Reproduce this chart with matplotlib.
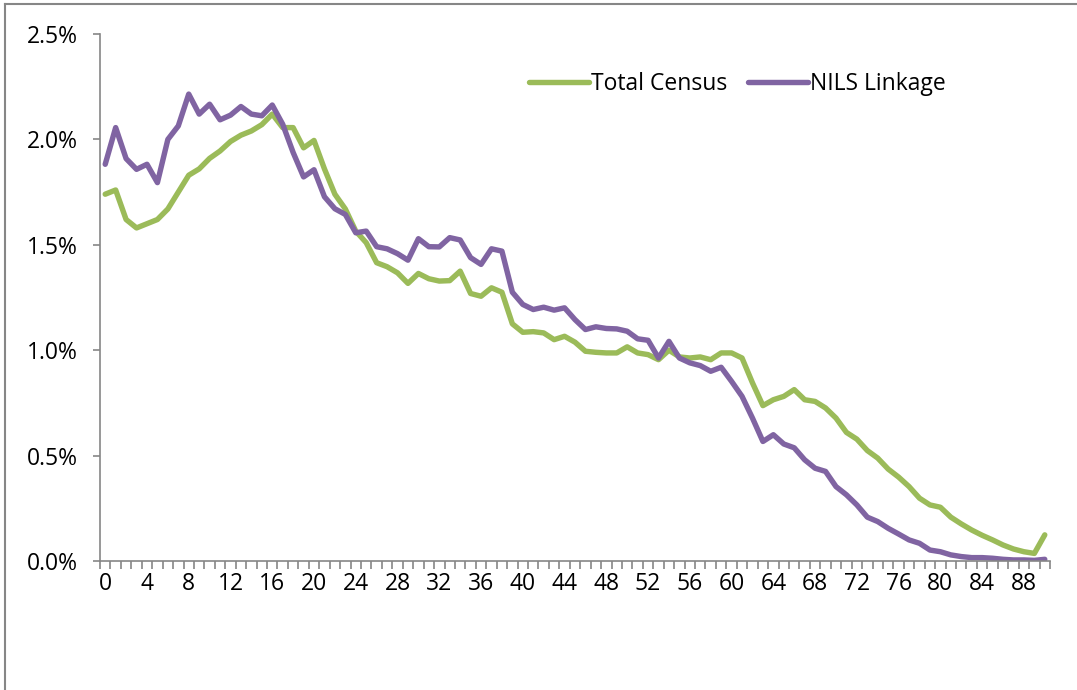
import numpy as np
import matplotlib
matplotlib.use("Agg")
import matplotlib.pyplot as plt
from matplotlib.ticker import FuncFormatter, FixedLocator

# ==========================================
# Data (share of population by single year of age, %)
# ==========================================

ages = list(range(0, 91))

total_census = [
    1.74, 1.76, 1.62, 1.58, 1.60, 1.62, 1.67, 1.75, 1.83, 1.86,
    1.91, 1.945, 1.99, 2.02, 2.04, 2.07, 2.12, 2.056, 2.056, 1.96,
    1.995, 1.86, 1.74, 1.67, 1.565, 1.51, 1.415, 1.396, 1.367, 1.317,
    1.364, 1.339, 1.328, 1.33, 1.375, 1.269, 1.256, 1.296, 1.275, 1.125,
    1.085, 1.088, 1.082, 1.05, 1.066, 1.038, 0.995, 0.99, 0.987, 0.987,
    1.016, 0.987, 0.979, 0.955, 1.0, 0.968, 0.963, 0.968, 0.955, 0.987,
    0.987, 0.963, 0.845, 0.737, 0.765, 0.781, 0.813, 0.765, 0.757, 0.726,
    0.678, 0.61, 0.578, 0.524, 0.488, 0.436, 0.398, 0.353, 0.298, 0.266,
    0.255, 0.208, 0.176, 0.147, 0.122, 0.10, 0.076, 0.057, 0.044, 0.036,
    0.124,
]

nils_linkage = [
    1.882, 2.056, 1.909, 1.858, 1.882, 1.795, 2.0, 2.064, 2.215, 2.12,
    2.167, 2.093, 2.115, 2.156, 2.12, 2.112, 2.163, 2.072, 1.938, 1.822,
    1.856, 1.728, 1.671, 1.644, 1.557, 1.565, 1.491, 1.481, 1.458, 1.427,
    1.529, 1.491, 1.49, 1.534, 1.523, 1.439, 1.407, 1.481, 1.47, 1.275,
    1.217, 1.193, 1.204, 1.19, 1.201, 1.145, 1.098, 1.111, 1.103, 1.101,
    1.09, 1.054, 1.047, 0.963, 1.042, 0.963, 0.94, 0.927, 0.90, 0.919,
    0.852, 0.781, 0.678, 0.567, 0.599, 0.555, 0.537, 0.48, 0.44, 0.425,
    0.353, 0.314, 0.266, 0.208, 0.187, 0.155, 0.128, 0.10, 0.084, 0.052,
    0.044, 0.029, 0.021, 0.016, 0.016, 0.013, 0.008, 0.005, 0.005, 0.003,
    0.008,
]

x_labels = list(range(0, 89, 4))

# ==========================================
# Style
# ==========================================

plt.rcParams["font.family"] = ["Open Sans", "DejaVu Sans"]
axis_grey = "#868686"
green = "#9BBB59"
purple = "#8064A2"
fs = 16.5

# ==========================================
# Figure
# ==========================================

fig = plt.figure(figsize=(10.77, 6.90), dpi=100)
W, H = 1077, 690
ax = fig.add_axes([100 / W, 1 - 561 / H, (1050 - 100) / W, (561 - 34) / H])

ax.plot(ages, total_census, color=green, lw=3.9, label="Total Census",
        solid_joinstyle="round", solid_capstyle="round")
ax.plot(ages, nils_linkage, color=purple, lw=3.9, label="NILS Linkage",
        solid_joinstyle="round", solid_capstyle="round")

ax.set_xlim(-0.5, 90.5)
ax.set_ylim(0, 2.5)

# y axis
ax.set_yticks(np.arange(0, 2.51, 0.5))
ax.yaxis.set_major_formatter(FuncFormatter(lambda v, p: f"{v:.1f}%"))

# x axis: labels every 4 years, small ticks between categories
ax.xaxis.set_major_locator(FixedLocator(x_labels))
ax.xaxis.set_minor_locator(FixedLocator(np.arange(-0.5, 91, 1)))
ax.tick_params(axis="x", which="major", length=0, pad=8, labelsize=fs)
ax.tick_params(axis="x", which="minor", length=6, width=1.2, color=axis_grey,
               direction="out")
ax.tick_params(axis="y", which="major", length=5, width=1.2, color=axis_grey,
               pad=11, labelsize=fs)

for side in ["top", "right"]:
    ax.spines[side].set_visible(False)
for side in ["left", "bottom"]:
    ax.spines[side].set_color(axis_grey)
    ax.spines[side].set_linewidth(1.2)

leg = ax.legend(loc="upper left", bbox_to_anchor=(520 / W, 1 - 63 / H),
                bbox_transform=fig.transFigure, ncol=2, frameon=False,
                fontsize=fs, handlelength=2.6, handletextpad=0.1,
                columnspacing=0.9, borderaxespad=0)

# chart outer border (left and top only visible)
fig.add_artist(plt.Line2D([5 / W, 5 / W], [0, 1 - 4 / H], color=axis_grey,
                          lw=1.5, transform=fig.transFigure))
fig.add_artist(plt.Line2D([5 / W, 1], [1 - 4 / H, 1 - 4 / H], color=axis_grey,
                          lw=1.5, transform=fig.transFigure))

fig.savefig("out.png", dpi=100)
